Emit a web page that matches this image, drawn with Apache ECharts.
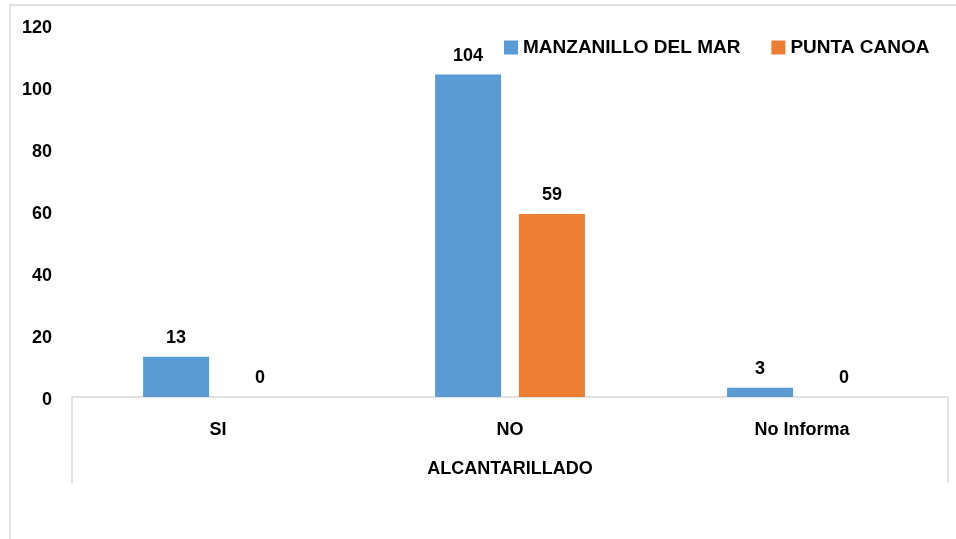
<!DOCTYPE html>
<html>
<head>
<meta charset="utf-8">
<script src="https://cdn.jsdelivr.net/npm/echarts@6/dist/echarts.min.js"></script>
<style>html,body{margin:0;padding:0;background:#fff}#c{width:956px;height:539px}</style>
</head>
<body>
<div id="c"></div>
<script>
const categories = ['SI', 'NO', 'No Informa'];
const groupLabel = ['ALCANTARILLADO'];
const manzanillo = [13, 104, 3];
const puntaCanoa = [0, 59, 0];
const seriesNames = ['MANZANILLO DEL MAR', 'PUNTA CANOA'];

const font = 'Liberation Sans, Arial, sans-serif';
const chart = echarts.init(document.getElementById('c'));
const lbl = {show: true, position: 'top', distance: 10, color: '#000', fontFamily: font, fontWeight: 'bold', fontSize: 18};
chart.setOption({
  animation: false,
  backgroundColor: '#fff',
  graphic: [{type: 'rect', shape: {x: 10, y: 5, width: 1000, height: 600}, style: {fill: 'none', stroke: '#d9d9d9', lineWidth: 1.5}, silent: true}],
  legend: {
    left: 499, top: 33, itemWidth: 14, itemHeight: 14, itemGap: 31, icon: 'rect',
    textStyle: {fontFamily: font, fontWeight: 'bold', fontSize: 19, color: '#000'},
    data: seriesNames
  },
  grid: {left: 72, right: 8, top: 25, bottom: 142, containLabel: false},
  xAxis: [{
    type: 'category', data: categories,
    axisLine: {lineStyle: {color: '#d9d9d9', width: 1.5}},
    axisTick: {show: false},
    axisLabel: {margin: 24, color: '#000', fontFamily: font, fontWeight: 'bold', fontSize: 18}
  }, {
    type: 'category', data: groupLabel, position: 'bottom', boundaryGap: true,
    axisLine: {show: false},
    axisTick: {show: true, length: 86, inside: false, lineStyle: {color: '#d9d9d9', width: 1.5}},
    axisLabel: {margin: 63, color: '#000', fontFamily: font, fontWeight: 'bold', fontSize: 18}
  }],
  yAxis: {
    type: 'value', min: 0, max: 120, interval: 20,
    axisLine: {show: false}, axisTick: {show: false}, splitLine: {show: false},
    axisLabel: {
      margin: 20, formatter: '{v|{value}}',
      rich: {v: {padding: [6, 0, 0, 0], color: '#000', fontFamily: font, fontWeight: 'bold', fontSize: 18}}
    }
  },
  series: [
    {name: seriesNames[0], type: 'bar', data: manzanillo, barWidth: 66, barGap: '27%', barCategoryGap: '48%', itemStyle: {color: '#5B9BD5'}, label: lbl},
    {name: seriesNames[1], type: 'bar', data: puntaCanoa, barWidth: 66, barGap: '27%', itemStyle: {color: '#ED7D31'}, label: lbl}
  ]
});
</script>
</body>
</html>
